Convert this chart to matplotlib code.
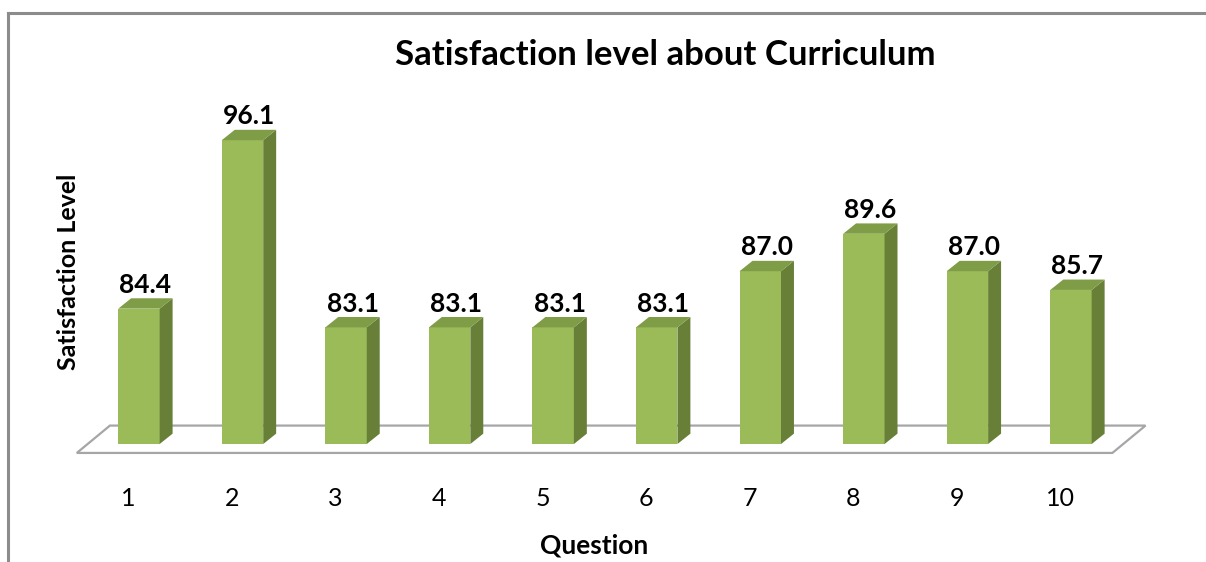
import matplotlib
matplotlib.use("Agg")
import matplotlib.pyplot as plt
from matplotlib.patches import Polygon
from matplotlib.lines import Line2D
import numpy as np

plt.rcParams['font.family'] = ['Lato', 'DejaVu Sans']

# data
questions = ['1', '2', '3', '4', '5', '6', '7', '8', '9', '10']
satisfaction = [84.4, 96.1, 83.1, 83.1, 83.1, 83.1, 87.0, 89.6, 87.0, 85.7]
base = 75.0

# colours
FRONT = '#9bbb59'
SIDE = '#677f37'
TOP = '#7f9c47'
FLOOR_EDGE = '#a6a6a6'

# 3d look, in data units
bar_half = 0.2
depth_x, depth_y = 0.125, 0.72        # bar depth
floor_dx, floor_dy = 0.32, 1.9        # floor depth
floor_front = base - 0.62

fig = plt.figure(figsize=(12.06, 5.62), dpi=100)
ax = fig.add_axes([0.0551, 0.1587, 0.9188, 0.6918])
ax.set_xlim(-0.7, 10.0)
ax.set_ylim(73, 100)

n = len(questions)
x = np.arange(n)

# floor parallelogram
fl, fr = -0.6, n - 1 + 0.4
floor = Polygon([(fl, floor_front), (fr, floor_front),
                 (fr + floor_dx, floor_front + floor_dy), (fl + floor_dx, floor_front + floor_dy)],
                closed=True, facecolor='white', edgecolor=FLOOR_EDGE, lw=1.6, zorder=1)
ax.add_patch(floor)

for xi, v in zip(x, satisfaction):
    l, r = xi - bar_half, xi + bar_half
    front = Polygon([(l, base), (r, base), (r, v), (l, v)], closed=True,
                    facecolor=FRONT, edgecolor='none', zorder=3)
    side = Polygon([(r, base), (r + depth_x, base + depth_y), (r + depth_x, v + depth_y), (r, v)],
                   closed=True, facecolor=SIDE, edgecolor='none', zorder=3)
    top = Polygon([(l, v), (r, v), (r + depth_x, v + depth_y), (l + depth_x, v + depth_y)],
                  closed=True, facecolor=TOP, edgecolor='none', zorder=3)
    for p in (front, side, top):
        ax.add_patch(p)
    ax.annotate(f'{v:.1f}', (xi + depth_x / 2, v + depth_y), xytext=(0, 1),
                textcoords='offset points', ha='center', va='bottom',
                fontsize=19, fontweight='bold', zorder=4)

# category labels sit on the front edge of the floor
ax.set_xticks(x - 0.1)
ax.set_xticklabels(questions, fontsize=18)
ax.tick_params(axis='x', length=0, pad=10.5)
ax.set_yticks([])
for s in ax.spines.values():
    s.set_visible(False)

fig.text(0.4925, 0.03, 'Question', ha='center', va='center',
         fontsize=19, fontweight='bold')
fig.text(0.0564, 0.516, 'Satisfaction Level', rotation=90, ha='center', va='center',
         fontsize=18, fontweight='bold')
fig.text(0.552, 0.903, 'Satisfaction level about Curriculum', ha='center', va='center',
         fontsize=25, fontweight='bold')

# chart area border (left and top only visible in the crop)
fig.add_artist(Line2D([0.0066, 0.0066], [0.0, 0.977], color='#8c8c8c', lw=2.2))
fig.add_artist(Line2D([0.0066, 1.0], [0.977, 0.977], color='#8c8c8c', lw=2.2))

fig.savefig('out.png', dpi=100, facecolor='white')
